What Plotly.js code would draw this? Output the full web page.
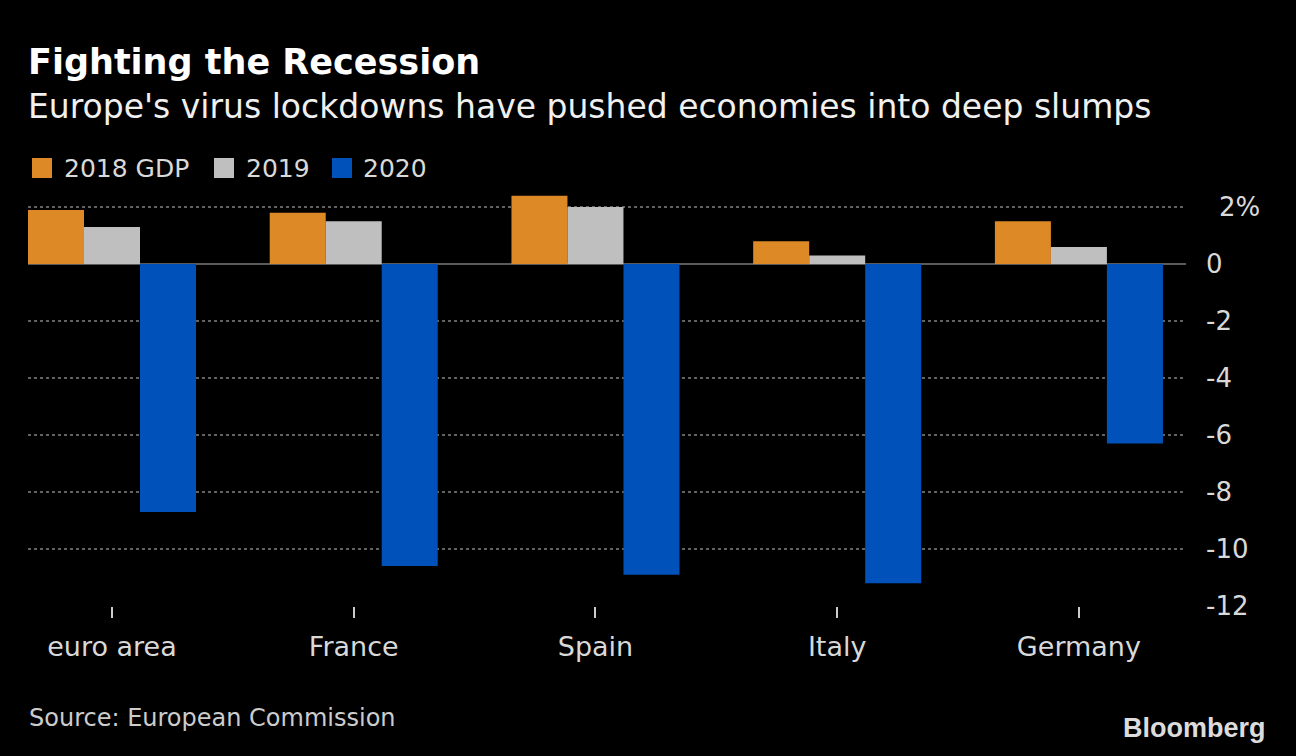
<!DOCTYPE html>
<html>
<head>
<meta charset="utf-8">
<script src="https://cdn.plot.ly/plotly-3.0.1.min.js"></script>
<style>html,body{margin:0;padding:0;background:#000;}#chart{width:1296px;height:756px;}</style>
</head>
<body>
<div id="chart"></div>
<script>
const categories = ["euro area", "France", "Spain", "Italy", "Germany"];
const gdp2018 = [1.9, 1.8, 2.4, 0.8, 1.5];
const gdp2019 = [1.3, 1.5, 2.0, 0.3, 0.6];
const gdp2020 = [-8.7, -10.6, -10.9, -11.2, -6.3];
const seriesNames = ["2018 GDP", "2019", "2020"];
const yTickVals = [2, 0, -2, -4, -6, -8, -10, -12];
const yTickText = ["\u20022%", "0", "-2", "-4", "-6", "-8", "-10", "-12"];

const colors = ["#DD8A26", "#BFBFBF", "#0052BA"];
const W = 1296, H = 756;
const M = {l: 28, r: 110, t: 190, b: 150};
const pw = W - M.l - M.r, ph = H - M.t - M.b;
const px = x => (x - M.l) / pw;
const py = y => (H - M.b - y) / ph;

const SANS = "DejaVu Sans, sans-serif";

const traces = [gdp2018, gdp2019, gdp2020].map((vals, i) => ({
  type: "bar",
  name: seriesNames[i],
  x: categories,
  y: vals,
  marker: {color: colors[i], line: {width: 0}},
  hoverinfo: "x+y+name",
  showlegend: false
}));

const shapes = [];
const annotations = [];
const legendSq = [32, 214, 332];
const legendTx = [62, 244, 361];
seriesNames.forEach((n, i) => {
  shapes.push({type: "rect", xref: "paper", yref: "paper",
    x0: px(legendSq[i]), x1: px(legendSq[i] + 20), y0: py(178), y1: py(158),
    fillcolor: colors[i], line: {width: 0}});
  annotations.push({xref: "paper", yref: "paper", x: px(legendTx[i]), y: py(168),
    xanchor: "left", yanchor: "middle", showarrow: false, text: n,
    font: {family: SANS, size: 25, color: "#d9d9d9"}});
});

annotations.push({xref: "paper", yref: "paper", x: px(26), y: py(62),
  xanchor: "left", yanchor: "middle", showarrow: false,
  text: "<b>Fighting the Recession</b>",
  font: {family: "DejaVu Sans, sans-serif", size: 35, color: "#ffffff"}});
annotations.push({xref: "paper", yref: "paper", x: px(26), y: py(106),
  xanchor: "left", yanchor: "middle", showarrow: false,
  text: "Europe's virus lockdowns have pushed economies into deep slumps",
  font: {family: "DejaVu Sans, sans-serif", size: 33, color: "#f0f0f0"}});
annotations.push({xref: "paper", yref: "paper", x: px(27), y: py(718),
  xanchor: "left", yanchor: "middle", showarrow: false,
  text: "Source: European Commission",
  font: {family: SANS, size: 24, color: "#cccccc"}});
annotations.push({xref: "paper", yref: "paper", x: px(1268), y: py(728),
  xanchor: "right", yanchor: "middle", showarrow: false,
  text: "<b>Bloomberg</b>",
  font: {family: "Liberation Sans, Arial, sans-serif", size: 27, color: "#dcdcdc"}});

const layout = {
  width: W, height: H,
  margin: M,
  paper_bgcolor: "#000", plot_bgcolor: "#000",
  barmode: "group", bargap: 0.305, bargroupgap: 0,
  showlegend: false,
  xaxis: {
    type: "category", range: [-0.3475, 4.443],
    showgrid: false, zeroline: false, showline: false,
    ticks: "outside", ticklen: 11, tickwidth: 2, tickcolor: "#cccccc",
    ticklabelstandoff: 6,
    tickfont: {family: SANS, size: 27, color: "#d9d9d9"},
    fixedrange: true
  },
  yaxis: {
    side: "right", range: [-12, 2.6],
    tickvals: yTickVals, ticktext: yTickText,
    showgrid: true, griddash: "dot", gridcolor: "#626262", gridwidth: 2,
    zeroline: true, zerolinecolor: "#5a5a5a", zerolinewidth: 2,
    showline: false, ticks: "",
    ticklabelstandoff: 19,
    tickfont: {family: SANS, size: 26, color: "#d9d9d9"},
    fixedrange: true
  },
  shapes: shapes,
  annotations: annotations
};

Plotly.newPlot("chart", traces, layout, {displayModeBar: false, staticPlot: true});
</script>
</body>
</html>
